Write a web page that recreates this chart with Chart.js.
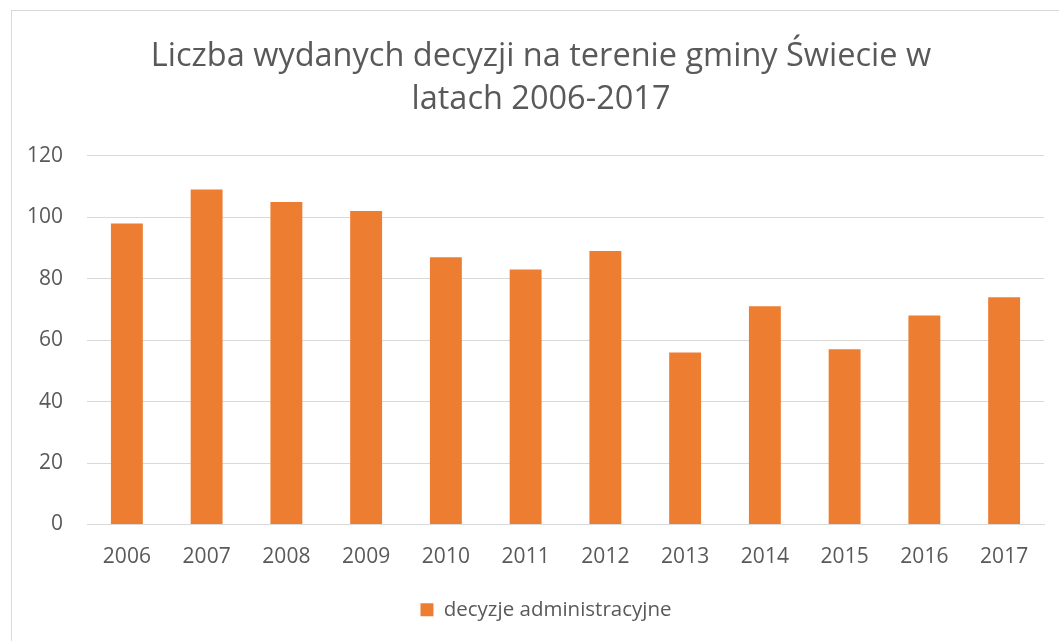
<!DOCTYPE html>
<html>
<head>
<meta charset="utf-8">
<script src="https://cdn.jsdelivr.net/npm/chart.js@4/dist/chart.umd.min.js"></script>
<style>
html,body{margin:0;padding:0;background:#fff;overflow:hidden;}
#wrap{position:relative;width:1059px;height:641px;}
#frame{position:absolute;left:11px;top:10px;width:1100px;height:700px;border-left:1px solid #D9D9D9;border-top:1px solid #D9D9D9;box-sizing:border-box;}
canvas{position:absolute;left:0;top:0;}
</style>
</head>
<body>
<div id="wrap"><div id="frame"></div><canvas id="c" width="1059" height="641"></canvas></div>
<script>
const categories = ['2006','2007','2008','2009','2010','2011','2012','2013','2014','2015','2016','2017'];
const seriesName = 'decyzje administracyjne';
const values = [98, 109, 105, 102, 87, 83, 89, 56, 71, 57, 68, 74];
const titleLines = ['Liczba wydanych decyzji na terenie gminy Świecie w', 'latach 2006-2017'];
const yMin = 0, yMax = 120, yStep = 20;

const FONT = "'Open Sans', 'Noto Sans', sans-serif";
const GREY = '#595959';

// Centre title and legend like the reference (slightly right of canvas centre)
const shiftBlocks = {
  id: 'shiftBlocks',
  afterLayout(chart) {
    if (chart.titleBlock) chart.titleBlock.left = 38;
    if (chart.legend) chart.legend.left = 48;
  }
};

new Chart(document.getElementById('c'), {
  type: 'bar',
  data: {
    labels: categories,
    datasets: [{
      label: seriesName,
      data: values,
      backgroundColor: '#ED7D31',
      borderWidth: 0,
      categoryPercentage: 1.0,
      barPercentage: 0.4
    }]
  },
  plugins: [shiftBlocks],
  options: {
    responsive: false,
    animation: false,
    devicePixelRatio: 1,
    layout: { padding: { left: 0, right: 15, top: 35, bottom: 11 } },
    plugins: {
      title: {
        display: true,
        text: titleLines,
        color: GREY,
        font: { family: FONT, size: 32.5, weight: 'normal', lineHeight: 1.32 },
        padding: { top: 0, bottom: 35 }
      },
      legend: {
        display: true,
        position: 'bottom',
        labels: {
          color: GREY,
          font: { family: FONT, size: 20.5 },
          boxWidth: 13,
          boxHeight: 13,
          padding: 10
        }
      },
      tooltip: { enabled: false }
    },
    scales: {
      x: {
        afterFit: (s) => { s.height = 65; },
        grid: { display: false },
        border: { display: true, color: '#D9D9D9', width: 1 },
        ticks: { color: GREY, font: { family: FONT, size: 21 }, padding: 12, maxRotation: 0 }
      },
      y: {
        min: yMin, max: yMax,
        afterFit: (s) => { s.width = 87; },
        border: { display: false },
        grid: { color: '#D9D9D9', lineWidth: 1, drawTicks: false },
        ticks: { stepSize: yStep, color: GREY, font: { family: FONT, size: 21 }, padding: 24 }
      }
    }
  }
});
</script>
</body>
</html>
